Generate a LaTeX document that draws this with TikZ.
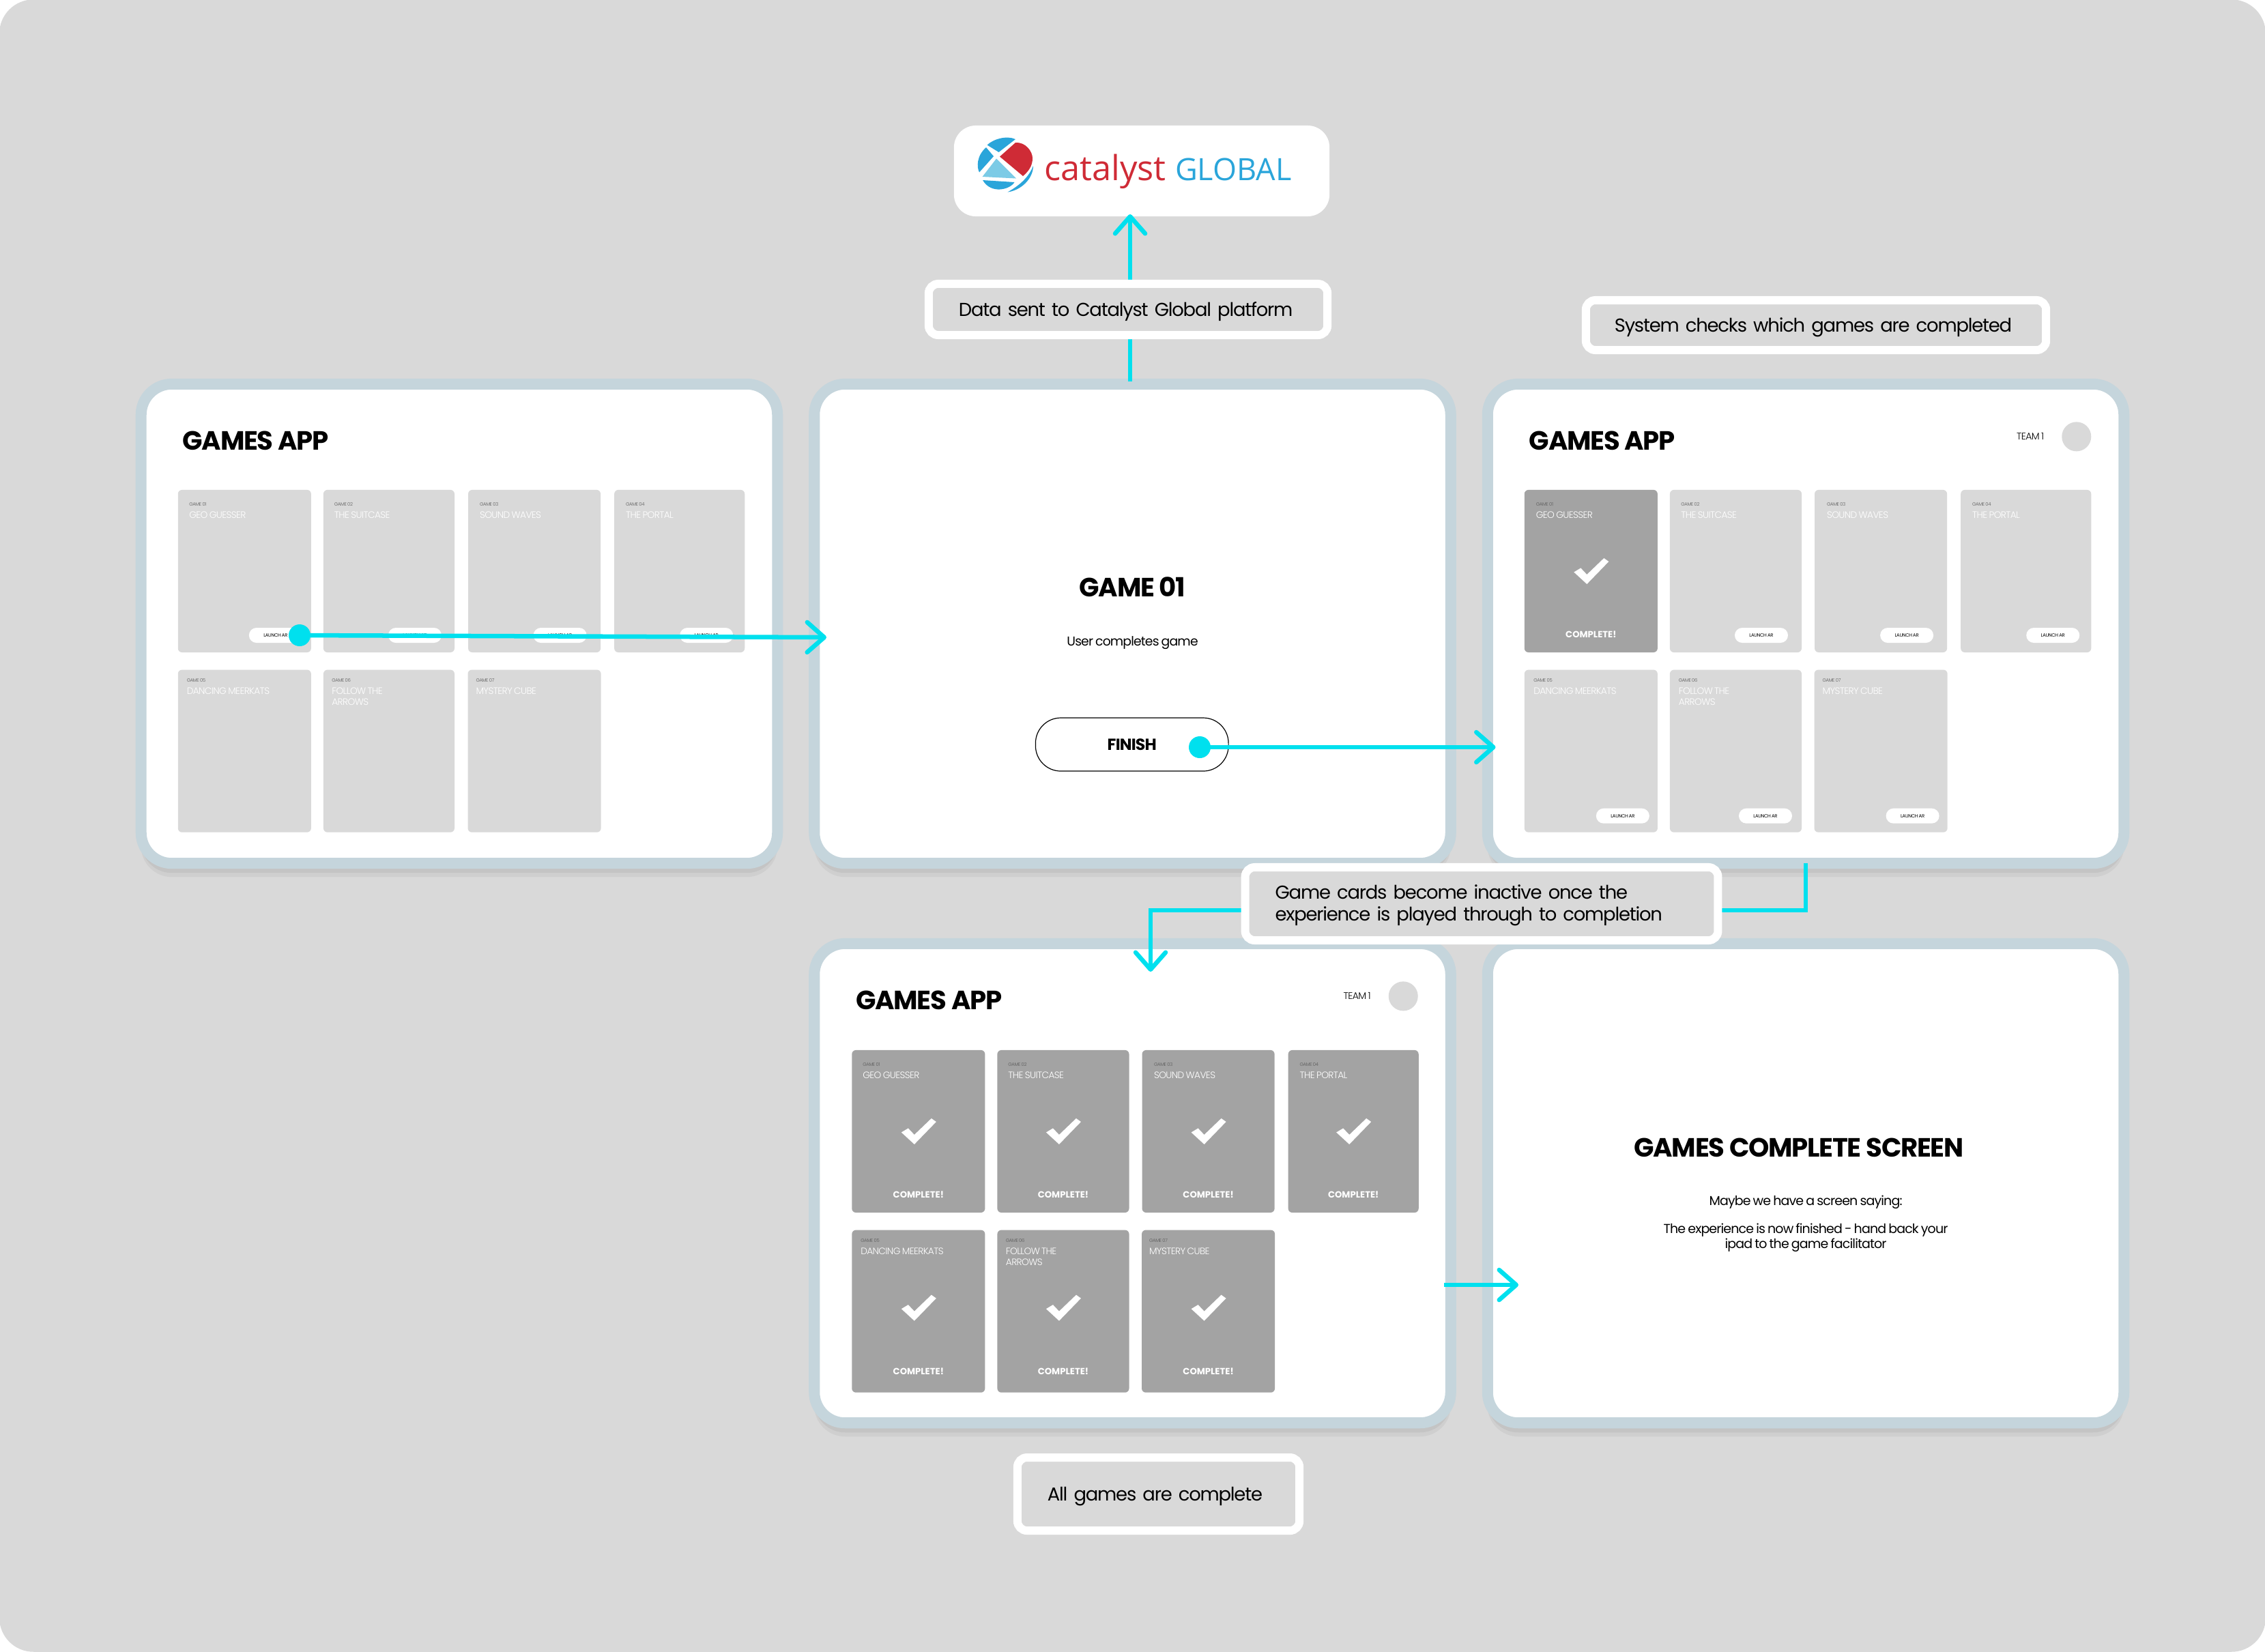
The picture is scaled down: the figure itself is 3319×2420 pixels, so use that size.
\documentclass[tikz,border=0pt]{standalone}
\usepackage{fontspec}
\usepackage{xcolor}
\usepackage{tikz}
\usetikzlibrary{arrows.meta, positioning, shadows}
\setmainfont{Poppins}
\newfontfamily\lightfont[LetterSpace=-4.5,WordSpace=0.75]{Poppins Light}
\newfontfamily\tightfont[LetterSpace=-4.5,WordSpace=0.75]{Poppins}
\newfontfamily\logofont{Open Sans}
\newfontfamily\headfont[LetterSpace=-3.4]{Poppins}
\definecolor{pagegrey}{HTML}{D9D9D9}
\definecolor{framecol}{HTML}{C5D5DC}
\definecolor{donegrey}{HTML}{A3A3A3}
\definecolor{flowcyan}{HTML}{00E0EE}
\definecolor{logored}{HTML}{CF2B36}
\definecolor{logoblue}{HTML}{2AA5DA}
\definecolor{logopale}{HTML}{7CCBE6}

\begin{document}
\begin{tikzpicture}[
x=0.01cm, y=-0.01cm,
every node/.style={inner sep=0pt, outer sep=0pt},
pagenode/.style={rectangle, rounded corners=0.5cm, fill=pagegrey, minimum width=33.19cm, minimum height=24.2cm},
screennode/.style={rectangle, rounded corners=0.45cm, fill=white, draw=framecol, line width=0.16cm,
minimum width=9.32cm, minimum height=7.02cm,
drop shadow={fill=black!45, opacity=0.16, shadow xshift=0cm, shadow yshift=-0.14cm},
drop shadow={fill=black!45, opacity=0.12, shadow xshift=0cm, shadow yshift=-0.2cm}},
cardnode/.style={rectangle, rounded corners=0.06cm, fill=pagegrey, minimum height=2.38cm},
donenode/.style={cardnode, fill=donegrey},
numnode/.style={font=\lightfont\fontsize{1.95}{2}\selectfont, text=black!65},
titlenode/.style={font=\lightfont\fontsize{3.9}{4.5}\selectfont, text=white, align=left},
pillnode/.style={rectangle, rounded corners=0.11cm, fill=white, minimum width=0.78cm, minimum height=0.22cm,
font=\tightfont\fontsize{1.95}{2}\selectfont},
completenode/.style={font=\bfseries\fontsize{3.75}{4}\selectfont, text=white},
headnode/.style={font=\headfont\bfseries\fontsize{11}{13}\selectfont},
teamnode/.style={font=\lightfont\fontsize{4}{4}\selectfont},
avatarnode/.style={circle, fill=pagegrey, minimum size=0.43cm},
dotnode/.style={circle, fill=flowcyan, minimum size=0.32cm},
notenode/.style={rectangle, rounded corners=0.14cm, fill=pagegrey, draw=white, line width=0.12cm,
inner xsep=0.44cm, align=left, text depth=0pt, font=\tightfont\fontsize{7.8}{9.1}\selectfont},
flownode/.style={-{Straight Barb[length=0.25cm, width=0.44cm, round]}, line width=0.065cm, flowcyan},
tickmark/.pic={\fill[white] (-25,1.5) -- (-15,-4.5) -- (-6,5) -- (19,-19) -- (26,-14) -- (-6,19) -- cycle;}
]

\fill[white] (0,0) rectangle (3319,2420);
\useasboundingbox (0,0) rectangle (3319,2420);
\node[pagenode] (page) at (1659.5,1210) {};

% logo
\node[rectangle, rounded corners=0.32cm, fill=white, minimum width=5.5cm, minimum height=1.33cm] (catalyst) at (1673,250.5) {};
\fill[logored] (1465,229.5) -- (1488,209) .. controls (1503,208) and (1513,222) .. (1513,232) .. controls (1513,244) and (1506,252) .. (1499,258) -- cycle;
\fill[logopale] (1460,232.5) -- (1489,261.5) -- (1439.5,259) -- cycle;
\fill[logoblue] (1446.5,212.5) .. controls (1455,204) and (1475,198) .. (1488,204) -- (1463.5,223) -- cycle;
\fill[logoblue] (1445,216) -- (1456,229) -- (1435,252.5) .. controls (1431,245) and (1431,228) .. (1445,216) -- cycle;
\fill[logoblue] (1440,264) -- (1486.5,267) .. controls (1480,278) and (1452,285) .. (1440,264) -- cycle;
\fill[logoblue] (1476.5,281.5) .. controls (1497,270) and (1508,258) .. (1514,243) .. controls (1514,262) and (1496,279) .. (1476.5,281.5) -- cycle;
\node[anchor=base west, font=\logofont\fontsize{14.4}{15}\selectfont, text=logored] (catalysttext) at (1530,264) {catalyst};
\node[anchor=base west, font=\logofont\fontsize{12.8}{15}\selectfont, text=logoblue] (globaltext) at (1722,264) {GLOBAL};

% screens
\node[screennode] (gamesa) at (673,914) {};
\node[screennode] (gamesb) at (1659.5,914) {};
\node[screennode] (gamesc) at (2646,914) {};
\node[screennode] (gamesd) at (1659.5,1734) {};
\node[screennode] (gamese) at (2646,1734) {};

% first screen
\node[headnode, below right=0.69cm and 0.61cm of gamesa.north west] (heada) {GAMES APP};
\node[cardnode, minimum width=1.95cm, below right=1.55cm and 0.54cm of gamesa.north west] (a1) {};
\node[cardnode, minimum width=1.92cm, right=0.18cm of a1] (a2) {};
\node[cardnode, minimum width=1.94cm, right=0.2cm of a2] (a3) {};
\node[cardnode, minimum width=1.91cm, right=0.2cm of a3] (a4) {};
\node[cardnode, minimum width=1.95cm, below=0.255cm of a1] (a5) {};
\node[cardnode, minimum width=1.92cm, below=0.255cm of a2] (a6) {};
\node[cardnode, minimum width=1.95cm, below=0.255cm of a3] (a7) {};

\node[numnode, below right=0.19cm and 0.165cm of a1.north west] (anum1) {GAME 01};
\node[titlenode, below right=0.32cm and 0.165cm of a1.north west] (atitle1) {GEO GUESSER};
\node[pillnode, above left=0.14cm and 0.13cm of a1.south east] (apill1) {LAUNCH AR};
\node[numnode, below right=0.19cm and 0.16cm of a2.north west] (anum2) {GAME 02};
\node[titlenode, below right=0.32cm and 0.16cm of a2.north west] (atitle2) {THE SUITCASE};
\node[pillnode, above left=0.14cm and 0.19cm of a2.south east] (apill2) {LAUNCH AR};
\node[numnode, below right=0.19cm and 0.17cm of a3.north west] (anum3) {GAME 03};
\node[titlenode, below right=0.32cm and 0.17cm of a3.north west] (atitle3) {SOUND WAVES};
\node[pillnode, above left=0.14cm and 0.205cm of a3.south east] (apill3) {LAUNCH AR};
\node[numnode, below right=0.19cm and 0.17cm of a4.north west] (anum4) {GAME 04};
\node[titlenode, below right=0.32cm and 0.17cm of a4.north west] (atitle4) {THE PORTAL};
\node[pillnode, above left=0.14cm and 0.17cm of a4.south east] (apill4) {LAUNCH AR};
\node[numnode, below right=0.13cm and 0.13cm of a5.north west] (anum5) {GAME 05};
\node[titlenode, below right=0.26cm and 0.13cm of a5.north west] (atitle5) {DANCING MEERKATS};
\node[numnode, below right=0.13cm and 0.125cm of a6.north west] (anum6) {GAME 06};
\node[titlenode, below right=0.26cm and 0.125cm of a6.north west] (atitle6) {FOLLOW THE\\ARROWS};
\node[numnode, below right=0.13cm and 0.12cm of a7.north west] (anum7) {GAME 07};
\node[titlenode, below right=0.26cm and 0.12cm of a7.north west] (atitle7) {MYSTERY CUBE};

% game screen
\node[font=\headfont\bfseries\fontsize{11}{13}\selectfont, above=0.39cm of gamesb.center] (gameone) {GAME 01};
\node[font=\tightfont\fontsize{5.35}{6}\selectfont, below=0.58cm of gameone] (usertext) {User completes game};
\node[rectangle, rounded corners=0.37cm, fill=white, draw=black, line width=0.012cm, minimum width=2.825cm, minimum height=0.78cm,
font=\headfont\bfseries\fontsize{6.7}{7}\selectfont] (finish) at (1658.75,1091) {FINISH};

% third screen
\node[headnode, below right=0.69cm and 0.61cm of gamesc.north west] (headc) {GAMES APP};
\node[avatarnode, below left=0.618cm and 0.543cm of gamesc.north east] (avatarc) {};
\node[teamnode, left=0.26cm of avatarc] (teamc) {TEAM 1};
\node[donenode, minimum width=1.95cm, below right=1.55cm and 0.54cm of gamesc.north west] (c1) {};
\node[cardnode, minimum width=1.93cm, right=0.18cm of c1] (c2) {};
\node[cardnode, minimum width=1.94cm, right=0.19cm of c2] (c3) {};
\node[cardnode, minimum width=1.91cm, right=0.2cm of c3] (c4) {};
\node[cardnode, minimum width=1.95cm, below=0.255cm of c1] (c5) {};
\node[cardnode, minimum width=1.93cm, below=0.255cm of c2] (c6) {};
\node[cardnode, minimum width=1.95cm, below=0.255cm of c3] (c7) {};

\node[numnode, below right=0.19cm and 0.17cm of c1.north west] (cnum1) {GAME 01};
\node[titlenode, below right=0.32cm and 0.17cm of c1.north west] (ctitle1) {GEO GUESSER};
\pic at (c1.center) {tickmark};
\node[completenode, above=0.21cm of c1.south] (cdone1) {COMPLETE!};
\node[numnode, below right=0.19cm and 0.165cm of c2.north west] (cnum2) {GAME 02};
\node[titlenode, below right=0.32cm and 0.165cm of c2.north west] (ctitle2) {THE SUITCASE};
\node[pillnode, above left=0.14cm and 0.2cm of c2.south east] (cpill2) {LAUNCH AR};
\node[numnode, below right=0.19cm and 0.18cm of c3.north west] (cnum3) {GAME 03};
\node[titlenode, below right=0.32cm and 0.18cm of c3.north west] (ctitle3) {SOUND WAVES};
\node[pillnode, above left=0.14cm and 0.2cm of c3.south east] (cpill3) {LAUNCH AR};
\node[numnode, below right=0.19cm and 0.17cm of c4.north west] (cnum4) {GAME 04};
\node[titlenode, below right=0.32cm and 0.17cm of c4.north west] (ctitle4) {THE PORTAL};
\node[pillnode, above left=0.14cm and 0.17cm of c4.south east] (cpill4) {LAUNCH AR};
\node[numnode, below right=0.13cm and 0.135cm of c5.north west] (cnum5) {GAME 05};
\node[titlenode, below right=0.26cm and 0.135cm of c5.north west] (ctitle5) {DANCING MEERKATS};
\node[pillnode, above left=0.13cm and 0.12cm of c5.south east] (cpill5) {LAUNCH AR};
\node[numnode, below right=0.13cm and 0.13cm of c6.north west] (cnum6) {GAME 06};
\node[titlenode, below right=0.26cm and 0.13cm of c6.north west] (ctitle6) {FOLLOW THE\\ARROWS};
\node[pillnode, above left=0.13cm and 0.14cm of c6.south east] (cpill6) {LAUNCH AR};
\node[numnode, below right=0.13cm and 0.12cm of c7.north west] (cnum7) {GAME 07};
\node[titlenode, below right=0.26cm and 0.12cm of c7.north west] (ctitle7) {MYSTERY CUBE};
\node[pillnode, above left=0.13cm and 0.12cm of c7.south east] (cpill7) {LAUNCH AR};

% fourth screen
\node[headnode, below right=0.69cm and 0.61cm of gamesd.north west] (headd) {GAMES APP};
\node[avatarnode, below left=0.618cm and 0.543cm of gamesd.north east] (avatard) {};
\node[teamnode, left=0.26cm of avatard] (teamd) {TEAM 1};
\node[donenode, minimum width=1.95cm, below right=1.56cm and 0.55cm of gamesd.north west] (d1) {};
\node[donenode, minimum width=1.93cm, right=0.18cm of d1] (d2) {};
\node[donenode, minimum width=1.94cm, right=0.19cm of d2] (d3) {};
\node[donenode, minimum width=1.91cm, right=0.2cm of d3] (d4) {};
\node[donenode, minimum width=1.95cm, below=0.255cm of d1] (d5) {};
\node[donenode, minimum width=1.93cm, below=0.255cm of d2] (d6) {};
\node[donenode, minimum width=1.95cm, below=0.255cm of d3] (d7) {};

\node[numnode, below right=0.19cm and 0.16cm of d1.north west] (dnum1) {GAME 01};
\node[titlenode, below right=0.32cm and 0.16cm of d1.north west] (dtitle1) {GEO GUESSER};
\pic at (d1.center) {tickmark};
\node[completenode, above=0.21cm of d1.south] (ddone1) {COMPLETE!};
\node[numnode, below right=0.19cm and 0.16cm of d2.north west] (dnum2) {GAME 02};
\node[titlenode, below right=0.32cm and 0.16cm of d2.north west] (dtitle2) {THE SUITCASE};
\pic at (d2.center) {tickmark};
\node[completenode, above=0.21cm of d2.south] (ddone2) {COMPLETE!};
\node[numnode, below right=0.19cm and 0.175cm of d3.north west] (dnum3) {GAME 03};
\node[titlenode, below right=0.32cm and 0.175cm of d3.north west] (dtitle3) {SOUND WAVES};
\pic at (d3.center) {tickmark};
\node[completenode, above=0.21cm of d3.south] (ddone3) {COMPLETE!};
\node[numnode, below right=0.19cm and 0.17cm of d4.north west] (dnum4) {GAME 04};
\node[titlenode, below right=0.32cm and 0.17cm of d4.north west] (dtitle4) {THE PORTAL};
\pic at (d4.center) {tickmark};
\node[completenode, above=0.21cm of d4.south] (ddone4) {COMPLETE!};
\node[numnode, below right=0.13cm and 0.13cm of d5.north west] (dnum5) {GAME 05};
\node[titlenode, below right=0.26cm and 0.13cm of d5.north west] (dtitle5) {DANCING MEERKATS};
\pic at ([yshift=0.05cm]d5.center) {tickmark};
\node[completenode, above=0.26cm of d5.south] (ddone5) {COMPLETE!};
\node[numnode, below right=0.13cm and 0.125cm of d6.north west] (dnum6) {GAME 06};
\node[titlenode, below right=0.26cm and 0.125cm of d6.north west] (dtitle6) {FOLLOW THE\\ARROWS};
\pic at ([yshift=0.05cm]d6.center) {tickmark};
\node[completenode, above=0.26cm of d6.south] (ddone6) {COMPLETE!};
\node[numnode, below right=0.13cm and 0.11cm of d7.north west] (dnum7) {GAME 07};
\node[titlenode, below right=0.26cm and 0.11cm of d7.north west] (dtitle7) {MYSTERY CUBE};
\pic at ([yshift=0.05cm]d7.center) {tickmark};
\node[completenode, above=0.26cm of d7.south] (ddone7) {COMPLETE!};

% last screen
\node[font=\headfont\bfseries\fontsize{11}{13}\selectfont] (completehead) at (2636,1682) {GAMES COMPLETE SCREEN};
\node[font=\tightfont\fontsize{5.4}{6.2}\selectfont, align=center] (completetext) at (2646,1793) {Maybe we have a screen saying:\\[5.5pt]The experience is now finished - hand back your\\ipad to the game facilitator};

% connectors
\node[dotnode] (dota) at (439,931) {};
\node[dotnode] (dotb) at (1758,1095) {};
\coordinate (tipb) at (1211,934);
\coordinate (tipc) at (2191.5,1095);
\coordinate (tipe) at (2225,1883);
\coordinate (tailf) at (2116,1883);
\coordinate (turnd) at (1686,1334);
\coordinate (tipd) at (1686,1424);
\coordinate (tailup) at (1656,559);
\coordinate (tipup) at (1656,314);

\draw[flownode] (dota) -- (tipb);
\draw[flownode] (dotb) -- (tipc);
\draw[flownode] (gamesc.south) |- (turnd) -- (tipd);
\draw[flownode] (tailf) -- (tipe);
\draw[flownode] (tailup) -- (tipup);

% notes
\node[notenode, text width=4.96cm, minimum height=0.75cm] (notedata) at (1653,453.5) {Data sent to Catalyst Global platform};
\node[notenode, inner xsep=0.42cm, text width=5.9cm, minimum height=0.73cm] (notecheck) at (2661,476.5) {System checks which games are completed};
\node[notenode, text width=6.045cm, minimum height=1.07cm, text depth=0.35cm] (noteinactive) at (2171,1324.5) {Game cards become inactive once the\\experience is played through to completion};
\node[notenode, text width=3.25cm, minimum height=1.07cm] (notedone) at (1697.5,2189.5) {All games are complete};

\end{tikzpicture}
\end{document}
